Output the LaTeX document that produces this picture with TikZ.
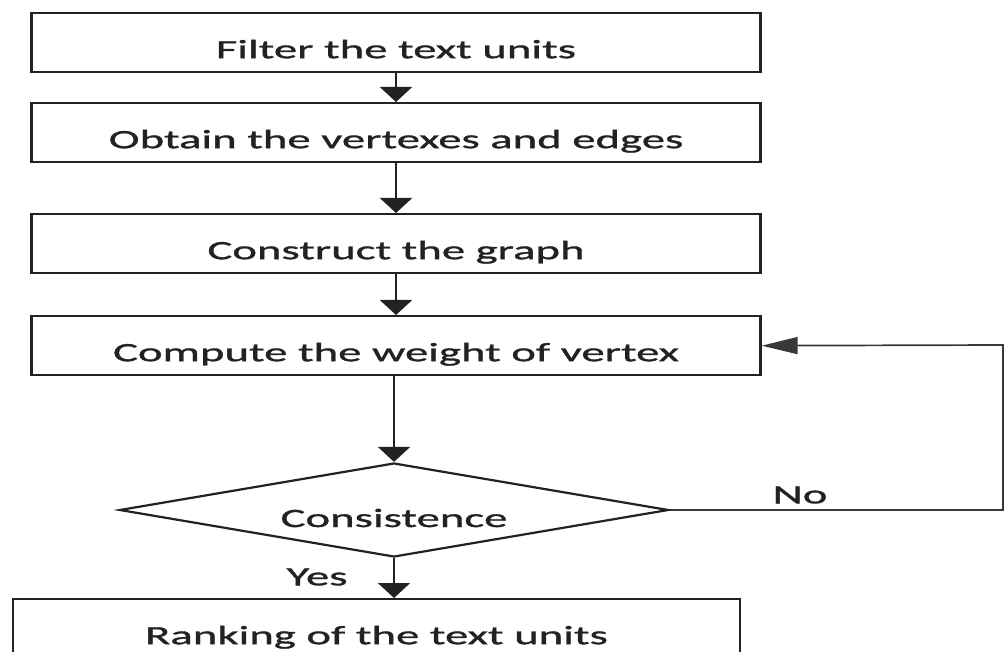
\documentclass[tikz,border=0pt]{standalone}
\usepackage{fontspec}
\setmainfont[FakeStretch=1.77, FakeBold=1.2]{Carlito}
\usetikzlibrary{arrows.meta, shapes.geometric}
\definecolor{ink}{HTML}{222222}

\begin{document}
\begin{tikzpicture}[x=1pt, y=-1pt,
  every node/.style={text=ink, font=\fontsize{26.4pt}{30pt}\selectfont},
  stepbox/.style={draw=ink, line width=2.4pt, minimum width=729pt, inner xsep=0pt,
    inner ysep=0pt, text height=45pt, text depth=14pt, anchor=north},
  down/.style={draw=ink, line width=2.2pt, -{Triangle[width=32pt,length=15pt]}},
  back/.style={draw=ink!90, line width=1.7pt, -{Triangle[width=17pt,length=36pt]}}]
\useasboundingbox (0,0) rectangle (1007,652);
\node[stepbox] at (396,12) (filter) {Filter the text units};
\node[stepbox] at (396,102) (obtain) {Obtain the vertexes and edges};
\node[stepbox] at (396,213) (graph) {Construct the graph};
\node[stepbox] at (396,315) (weight) {Compute the weight of vertex};
\node[draw=ink, line width=2.2pt, shape=diamond, aspect=5.84, minimum width=549pt,
  minimum height=94pt, inner sep=0pt, text height=40pt, text depth=6pt] at (394,510) (check) {Consistence};
\node[stepbox, minimum width=727pt] at (376.5,598) (rank) {Ranking of the text units};
\node at (800,495) (no) {No};
\node at (317,577) (yes) {Yes};
\coordinate (turn) at (1003,345);
\draw (filter) edge[down] (obtain);
\draw (obtain) edge[down] (graph);
\draw (graph) edge[down] (weight);
\draw (weight.south -| check.north) edge[down] (check.north);
\draw[down] (check.south) -- (check.south |- rank.north);
\draw[back] (check.east) -| (turn) -- (weight.east);
\end{tikzpicture}
\end{document}
